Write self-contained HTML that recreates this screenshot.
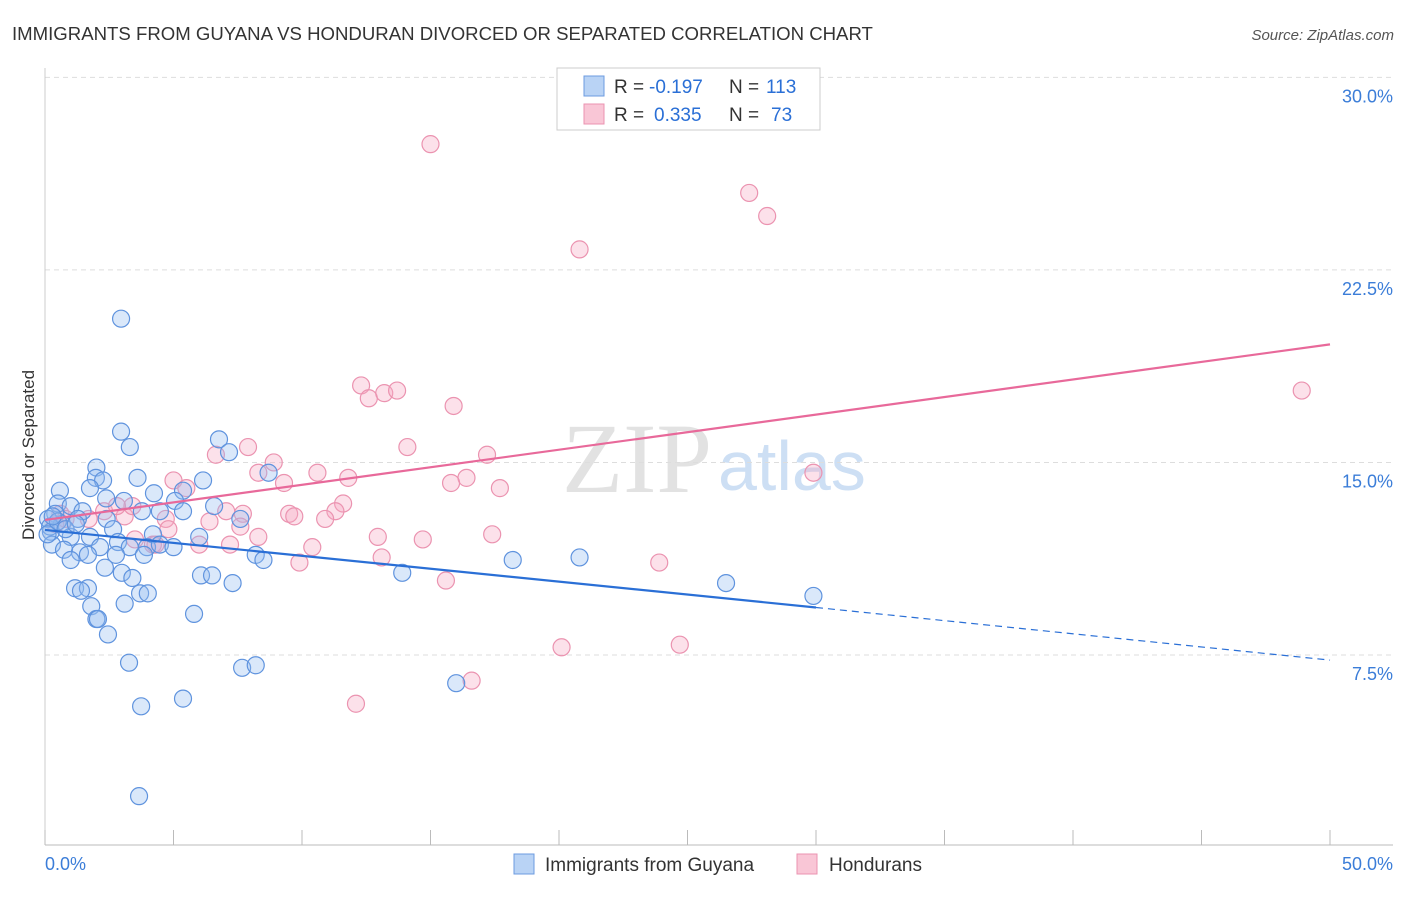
<!DOCTYPE html>
<html><head><meta charset="utf-8"><style>
body{margin:0;background:#fff;font-family:"Liberation Sans",sans-serif}
svg text{font-family:"Liberation Sans",sans-serif}
</style></head><body>
<svg id="chart" width="1406" height="892">
<text x="12" y="40" font-size="18.6" fill="#333">IMMIGRANTS FROM GUYANA VS HONDURAN DIVORCED OR SEPARATED CORRELATION CHART</text>
<text x="1394" y="40" font-size="15" fill="#555" font-style="italic" text-anchor="end">Source: ZipAtlas.com</text>
<text x="34" y="455" font-size="17" fill="#333" text-anchor="middle" transform="rotate(-90 34 455)">Divorced or Separated</text>
<text x="712" y="492" font-size="100" fill="#e2e2e2" style="font-family:'Liberation Serif',serif" text-anchor="end">ZIP</text>
<text x="718" y="490" font-size="70" fill="#cddff4">atlas</text>
<g id="grid"></g><g id="pts"></g><g id="lines"></g>
<g>
<rect x="557" y="68" width="263" height="62" fill="#fff" stroke="#ccc"/>
<rect x="584" y="76" width="20" height="20" fill="#b9d3f5" stroke="#6c9be0"/>
<rect x="584" y="104" width="20" height="20" fill="#f9c6d6" stroke="#eb93b0"/>
<text x="614" y="93" font-size="19" fill="#333">R =</text>
<text x="649" y="93" font-size="19" fill="#2a6fd6">-0.197</text>
<text x="729" y="93" font-size="19" fill="#333">N =</text>
<text x="766" y="93" font-size="19" fill="#2a6fd6">113</text>
<text x="614" y="121" font-size="19" fill="#333">R =</text>
<text x="654" y="121" font-size="19" fill="#2a6fd6">0.335</text>
<text x="729" y="121" font-size="19" fill="#333">N =</text>
<text x="771" y="121" font-size="19" fill="#2a6fd6">73</text>
</g>
<g>
<rect x="514" y="854" width="20" height="20" fill="#b9d3f5" stroke="#6c9be0"/>
<text x="545" y="871" font-size="19" fill="#333">Immigrants from Guyana</text>
<rect x="797" y="854" width="20" height="20" fill="#f9c6d6" stroke="#eb93b0"/>
<text x="829" y="871" font-size="19" fill="#333">Hondurans</text>
</g>
</svg>
<script>
const yTicks=[7.5,15,22.5,30];
const yTickLabels=["7.5%","15.0%","22.5%","30.0%"];
const xTicks=[0,5,10,15,20,25,30,35,40,45,50];
const blueX=[2.96,2.96,3.3,2.0,3.6,1.98,2.26,0.58,1.75,2.38,3.07,4.24,5.37,6.77,7.16,6.15,8.7,5.06,0.5,1.0,1.46,3.77,4.47,5.37,6.58,7.6,0.4,0.12,0.66,1.28,2.4,2.65,0.23,1.0,1.75,2.84,4.2,6.0,0.27,0.74,1.36,2.14,3.3,3.97,4.47,5.0,1.0,1.67,2.76,3.85,8.2,8.5,2.33,2.99,6.07,6.5,13.9,18.2,20.8,26.5,29.9,7.3,3.4,1.17,1.67,1.4,3.7,4.0,1.8,3.1,5.8,2.0,2.06,2.45,3.27,7.67,8.2,5.37,3.74,16.0,3.66,0.2,0.5,0.8,0.3,1.2,0.1];
const blueY=[20.6,16.2,15.6,14.8,14.4,14.4,14.3,13.9,14.0,13.6,13.5,13.8,13.9,15.9,15.4,14.3,14.6,13.5,13.4,13.3,13.1,13.1,13.1,13.1,13.3,12.8,13.0,12.8,12.6,12.8,12.8,12.4,12.3,12.1,12.1,11.9,12.2,12.1,11.8,11.6,11.5,11.7,11.7,11.7,11.8,11.7,11.2,11.4,11.4,11.4,11.4,11.2,10.9,10.7,10.6,10.6,10.7,11.2,11.3,10.3,9.8,10.3,10.5,10.1,10.1,10.0,9.9,9.9,9.4,9.5,9.1,8.9,8.9,8.3,7.2,7.0,7.1,5.8,5.5,6.4,2.0,12.5,12.7,12.4,12.9,12.6,12.2];
const pinkX=[15.0,27.4,28.1,20.8,48.9,12.3,12.6,13.2,13.7,15.9,14.1,7.9,17.2,8.9,8.3,10.6,11.8,16.4,29.9,15.8,17.7,9.3,5.0,5.5,6.65,11.6,11.3,9.5,9.7,10.9,7.7,7.05,6.4,7.6,4.7,3.1,2.3,1.7,4.8,8.3,7.2,6.0,4.2,12.95,14.7,17.4,10.4,13.1,9.9,15.6,23.9,20.1,24.7,16.6,12.1,3.4,0.6,0.8,0.4,3.5,2.8,4.3];
const pinkY=[27.4,25.5,24.6,23.3,17.8,18.0,17.5,17.7,17.8,17.2,15.6,15.6,15.3,15.0,14.6,14.6,14.4,14.4,14.6,14.2,14.0,14.2,14.3,14.0,15.3,13.4,13.1,13.0,12.9,12.8,13.0,13.1,12.7,12.5,12.8,12.9,13.1,12.8,12.4,12.1,11.8,11.8,11.8,12.1,12.0,12.2,11.7,11.3,11.1,10.4,11.1,7.8,7.9,6.5,5.6,13.3,13.0,12.8,12.6,12.0,13.3,11.8];
const blueTrend=[12.37,9.35,7.3];
const pinkTrend=[12.76,19.6];
const X=v=>45+v*25.7, Y=v=>847.5-v*25.67;
const NS="http://www.w3.org/2000/svg";
function mk(tag,attrs,parent){const e=document.createElementNS(NS,tag);for(const k in attrs)e.setAttribute(k,attrs[k]);parent.appendChild(e);return e;}
const grid=document.getElementById('grid');
yTicks.forEach((t,i)=>{
 const l=mk('line',{x1:45,x2:1393,y1:Y(t),y2:Y(t),stroke:'#ddd','stroke-dasharray':'5,4'},grid);
 
 
 const tx=mk('text',{x:1393,y:Y(t)+25,'font-size':18,fill:'#3b7dd8','text-anchor':'end'},grid);
 tx.textContent=yTickLabels[i];
 
 
});
const ax=mk('line',{x1:45,x2:1393,y1:845,y2:845,stroke:'#bbb'},grid);


const ay=mk('line',{x1:45,x2:45,y1:68,y2:845,stroke:'#ccc'},grid);


xTicks.forEach(t=>{
 const l=mk('line',{x1:X(t),x2:X(t),y1:830,y2:845,stroke:'#bbb'},grid);
 
 
});
const x0=mk('text',{x:45,y:870,'font-size':18,fill:'#3b7dd8'},grid);x0.textContent='0.0%';


const x1=mk('text',{x:1393,y:870,'font-size':18,fill:'#3b7dd8','text-anchor':'end'},grid);x1.textContent='50.0%';


const pts=document.getElementById('pts');
pinkX.forEach((v,i)=>{
 const c=mk('circle',{cx:X(v),cy:Y(pinkY[i]),r:8.5,fill:'rgba(246,170,196,0.35)',stroke:'#eb93b0','stroke-width':1.2},pts);
 
 
});
blueX.forEach((v,i)=>{
 const c=mk('circle',{cx:X(v),cy:Y(blueY[i]),r:8.5,fill:'rgba(150,190,240,0.35)',stroke:'#5f93de','stroke-width':1.2},pts);
 
 
});
const lines=document.getElementById('lines');
const b1=mk('line',{x1:X(0),y1:Y(blueTrend[0]),x2:X(30),y2:Y(blueTrend[1]),stroke:'#2a6fd6','stroke-width':2.2},lines);


const b2=mk('line',{x1:X(30),y1:Y(blueTrend[1]),x2:X(50),y2:Y(blueTrend[2]),stroke:'#2a6fd6','stroke-width':1.2,'stroke-dasharray':'7,5'},lines);


const p1=mk('line',{x1:X(0),y1:Y(pinkTrend[0]),x2:X(50),y2:Y(pinkTrend[1]),stroke:'#e8699a','stroke-width':2.2},lines);


</script>
</body></html>
